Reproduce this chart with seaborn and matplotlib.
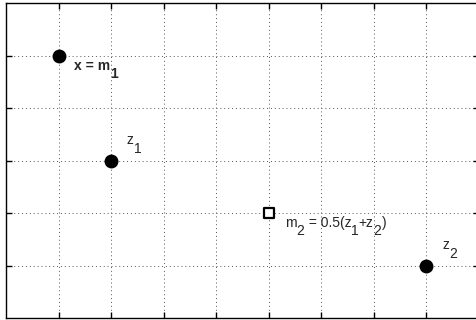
import matplotlib
matplotlib.use('Agg')
import matplotlib.pyplot as plt
import matplotlib.transforms as mtransforms
import seaborn as sns
import pandas as pd

# points (filled circles) and midpoint (open square)
pt_x = [1, 2, 8]
pt_y = [5, 3, 1]
mid_x = [5]
mid_y = [2]

# labels, split into (text, is_subscript) pieces
label_parts = [
    [('x = m', False), ('1', True)],
    [('z', False), ('1', True)],
    [('m', False), ('2', True), (' = 0.5(z', False), ('1', True),
     ('+z', False), ('2', True), (')', False)],
    [('z', False), ('2', True)],
]
label_bold = [True, False, False, False]
label_x = [1.294, 2.30, 5.31, 8.31]
label_y = [4.724, 3.31, 1.74, 1.31]

xticks = [1, 2, 3, 4, 5, 6, 7, 8]
yticks = [1, 2, 3, 4, 5]

sns.set_style('white')
plt.rcParams['font.family'] = ['Liberation Sans', 'DejaVu Sans']

fig = plt.figure(figsize=(4.77, 3.2), dpi=100)
ax = fig.add_axes([6 / 477, 2 / 320, 473 / 477, 315 / 320])

pts = pd.DataFrame({'x': pt_x, 'y': pt_y})
mid = pd.DataFrame({'x': mid_x, 'y': mid_y})
sns.scatterplot(data=pts, x='x', y='y', ax=ax, s=100, color='black',
                edgecolor='black', linewidth=0, zorder=3)
sns.scatterplot(data=mid, x='x', y='y', ax=ax, marker='s', s=42,
                facecolor='white', edgecolor='black', linewidth=1.6, zorder=3)

ax.set_xlim(0, 9)
ax.set_ylim(0, 6)
ax.set_xticks(xticks)
ax.set_yticks(yticks)
ax.set_xticklabels([])
ax.set_yticklabels([])
ax.set_xlabel('')
ax.set_ylabel('')
ax.grid(True, linestyle=(0, (1, 3)), color='#555555', linewidth=0.7)
ax.tick_params(direction='in', length=4, width=1, top=True, right=True,
               bottom=True, left=True, color='black')
for s in ax.spines.values():
    s.set_color('black')
    s.set_linewidth(1.0)

# write labels piece by piece, subscripts lowered like the original
renderer = fig.canvas.get_renderer()
for parts, bold, x, y in zip(label_parts, label_bold, label_x, label_y):
    dx = 0.0
    for txt, sub in parts:
        tr = mtransforms.offset_copy(ax.transData, fig=fig, x=dx,
                                     y=-6 if sub else 0, units='points')
        t = ax.text(x, y, txt, transform=tr, fontsize=10, va='baseline',
                    ha='left', fontweight='bold' if bold else 'normal')
        dx += t.get_window_extent(renderer).width * 72 / fig.dpi

fig.savefig('out.png', dpi=100)
